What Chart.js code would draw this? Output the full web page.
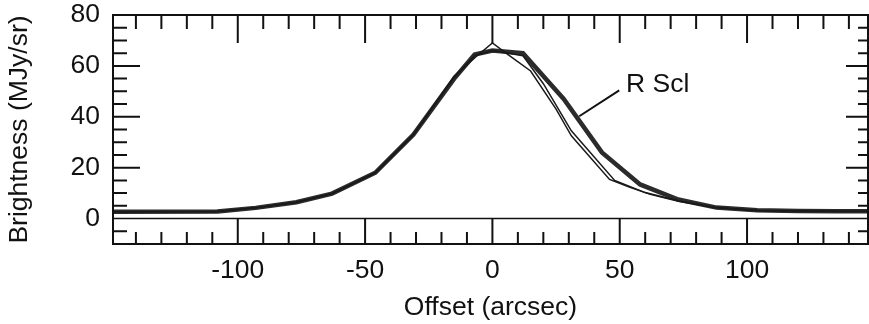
<!DOCTYPE html>
<html>
<head>
<meta charset="utf-8">
<script src="https://cdn.jsdelivr.net/npm/chart.js@4/dist/chart.umd.min.js"></script>
<style>
  body { margin: 0; background: #fff; }
  #wrap { width: 869px; height: 324px; position: relative; }
</style>
</head>
<body>
<div id="wrap"><canvas id="chart-profile"></canvas></div>
<script>
// brightness profiles, offset in arcsec vs MJy/sr
const thickX = [-149, -108, -93, -77, -63, -46, -31, -15, -7, 0, 12, 28, 43, 58, 73, 88, 104, 120, 135, 147.5];
const thickY = [2.7, 2.8, 4.2, 6.4, 9.8, 18, 33, 55, 64.5, 66, 65, 47, 26, 13.4, 7.5, 4.3, 3.3, 3.0, 2.9, 2.9];

const thinAX = [-149, -108, -93, -77, -63, -46, -31, -15, -6, 0, 6, 15, 25, 31, 46, 54, 62, 73, 88, 104, 120, 135, 147.5];
const thinAY = [2.7, 2.8, 4.2, 6.4, 9.8, 18, 33, 56, 64, 69, 64.5, 58, 43, 32.5, 15.4, 12.3, 9.5, 6.8, 4.2, 3.2, 3.0, 2.9, 2.9];

const thinBX = [-149, -108, -93, -77, -63, -46, -31, -15, -7, 0, 12, 20, 31, 48, 60, 73, 88, 104, 120, 135, 147.5];
const thinBY = [2.7, 2.8, 4.2, 6.4, 9.8, 18, 33, 55.5, 64, 66, 64, 53, 34.5, 15, 10.2, 7, 4.3, 3.2, 3.0, 2.9, 2.9];

// label leader line for "R Scl"
const leaderX = [34.1, 49.8];
const leaderY = [40.2, 50.4];
const seriesLabel = 'R Scl';
const labelAt = { x: 52.5, y: 52.5 };

const xTickLabels = [-100, -50, 0, 50, 100];
const yTickLabels = [0, 20, 40, 60, 80];
const xMinorTicks = [-140, -130, -120, -110, -100, -90, -80, -70, -60, -50, -40, -30, -20, -10, 0, 10, 20, 30, 40, 50, 60, 70, 80, 90, 100, 110, 120, 130, 140];
const yMinorTicks = [-5, 0, 5, 10, 15, 20, 25, 30, 35, 40, 45, 50, 55, 60, 65, 70, 75];

const FONT = '"Liberation Sans", Arial, Helvetica, sans-serif';
const FSIZE = 26.5;

function toPoints(xs, ys) {
    return xs.map((x, i) => ({ x: x, y: ys[i] }));
}

// frame, inward ticks, zero line and series label
const framePlugin = {
    id: 'frame',
    afterDatasetsDraw(chart) {
        const ctx = chart.ctx;
        const xs = chart.scales.x;
        const ys = chart.scales.y;
        const a = chart.chartArea;
        ctx.save();
        ctx.strokeStyle = '#111';
        ctx.lineCap = 'butt';

        // zero line
        ctx.lineWidth = 1.6;
        const y0 = ys.getPixelForValue(0);
        ctx.beginPath();
        ctx.moveTo(a.left, y0);
        ctx.lineTo(a.right, y0);
        ctx.stroke();

        ctx.lineWidth = 2;
        ctx.beginPath();
        xMinorTicks.forEach(v => {
            const px = xs.getPixelForValue(v);
            const major = v % 50 === 0;
            ctx.moveTo(px, a.top);
            ctx.lineTo(px, a.top + (major ? 28 : 14));
            ctx.moveTo(px, a.bottom);
            ctx.lineTo(px, major ? y0 : a.bottom - 12);
        });
        yMinorTicks.forEach(v => {
            if (v === 0) return;
            const py = ys.getPixelForValue(v);
            const major = v % 20 === 0;
            ctx.moveTo(a.left, py);
            ctx.lineTo(a.left + (major ? 27 : 14), py);
            ctx.moveTo(a.right, py);
            ctx.lineTo(a.right - (major ? 22 : 10), py);
        });
        ctx.stroke();

        ctx.lineWidth = 2;
        ctx.strokeRect(a.left, a.top, a.right - a.left, a.bottom - a.top);

        ctx.fillStyle = '#111';
        ctx.font = FSIZE + 'px ' + FONT;
        ctx.textAlign = 'left';
        ctx.textBaseline = 'middle';
        ctx.fillText(seriesLabel, xs.getPixelForValue(labelAt.x), ys.getPixelForValue(labelAt.y));
        ctx.restore();
    }
};

const ctx = document.getElementById('chart-profile');

new Chart(ctx, {
    type: 'line',
    data: {
        datasets: [
            {
                label: 'thin a',
                data: toPoints(thinAX, thinAY),
                borderColor: '#1a1a1a',
                borderWidth: 1.5,
                pointRadius: 0,
                tension: 0
            },
            {
                label: 'thin b',
                data: toPoints(thinBX, thinBY),
                borderColor: '#1a1a1a',
                borderWidth: 1.5,
                pointRadius: 0,
                tension: 0
            },
            {
                label: seriesLabel,
                data: toPoints(thickX, thickY),
                borderColor: '#2b2b2b',
                borderWidth: 4.5,
                pointRadius: 0,
                tension: 0
            },
            {
                label: 'leader',
                data: toPoints(leaderX, leaderY),
                borderColor: '#111',
                borderWidth: 2,
                pointRadius: 0,
                tension: 0
            }
        ]
    },
    options: {
        responsive: true,
        maintainAspectRatio: false,
        animation: false,
        layout: {
            padding: { top: 0, right: 1, left: 0, bottom: 0 }
        },
        scales: {
            x: {
                type: 'linear',
                min: -149,
                max: 147.5,
                afterFit(scale) { scale.height = 80; },
                afterBuildTicks(scale) {
                    scale.ticks = xTickLabels.map(v => ({ value: v }));
                },
                grid: { display: false, drawTicks: false },
                border: { display: false },
                ticks: {
                    autoSkip: false,
                    maxRotation: 0,
                    padding: 11,
                    color: '#111',
                    font: { family: FONT, size: FSIZE }
                },
                title: {
                    display: true,
                    text: 'Offset (arcsec)',
                    color: '#111',
                    padding: { top: 0, bottom: 0 },
                    font: { family: FONT, size: FSIZE }
                }
            },
            y: {
                min: -10,
                max: 80,
                afterFit(scale) {
                    scale.width = 113;
                    scale.paddingTop = 15;
                    scale.paddingBottom = 0;
                },
                afterBuildTicks(scale) {
                    scale.ticks = yTickLabels.map(v => ({ value: v }));
                },
                grid: { display: false, drawTicks: false },
                border: { display: false },
                ticks: {
                    autoSkip: false,
                    padding: 13,
                    color: '#111',
                    font: { family: FONT, size: FSIZE }
                },
                title: {
                    display: true,
                    text: 'Brightness (MJy/sr)',
                    color: '#111',
                    padding: { top: 4, bottom: 0 },
                    font: { family: FONT, size: FSIZE }
                }
            }
        },
        plugins: {
            legend: { display: false },
            tooltip: { enabled: false }
        }
    },
    plugins: [framePlugin]
});
</script>
</body>
</html>
